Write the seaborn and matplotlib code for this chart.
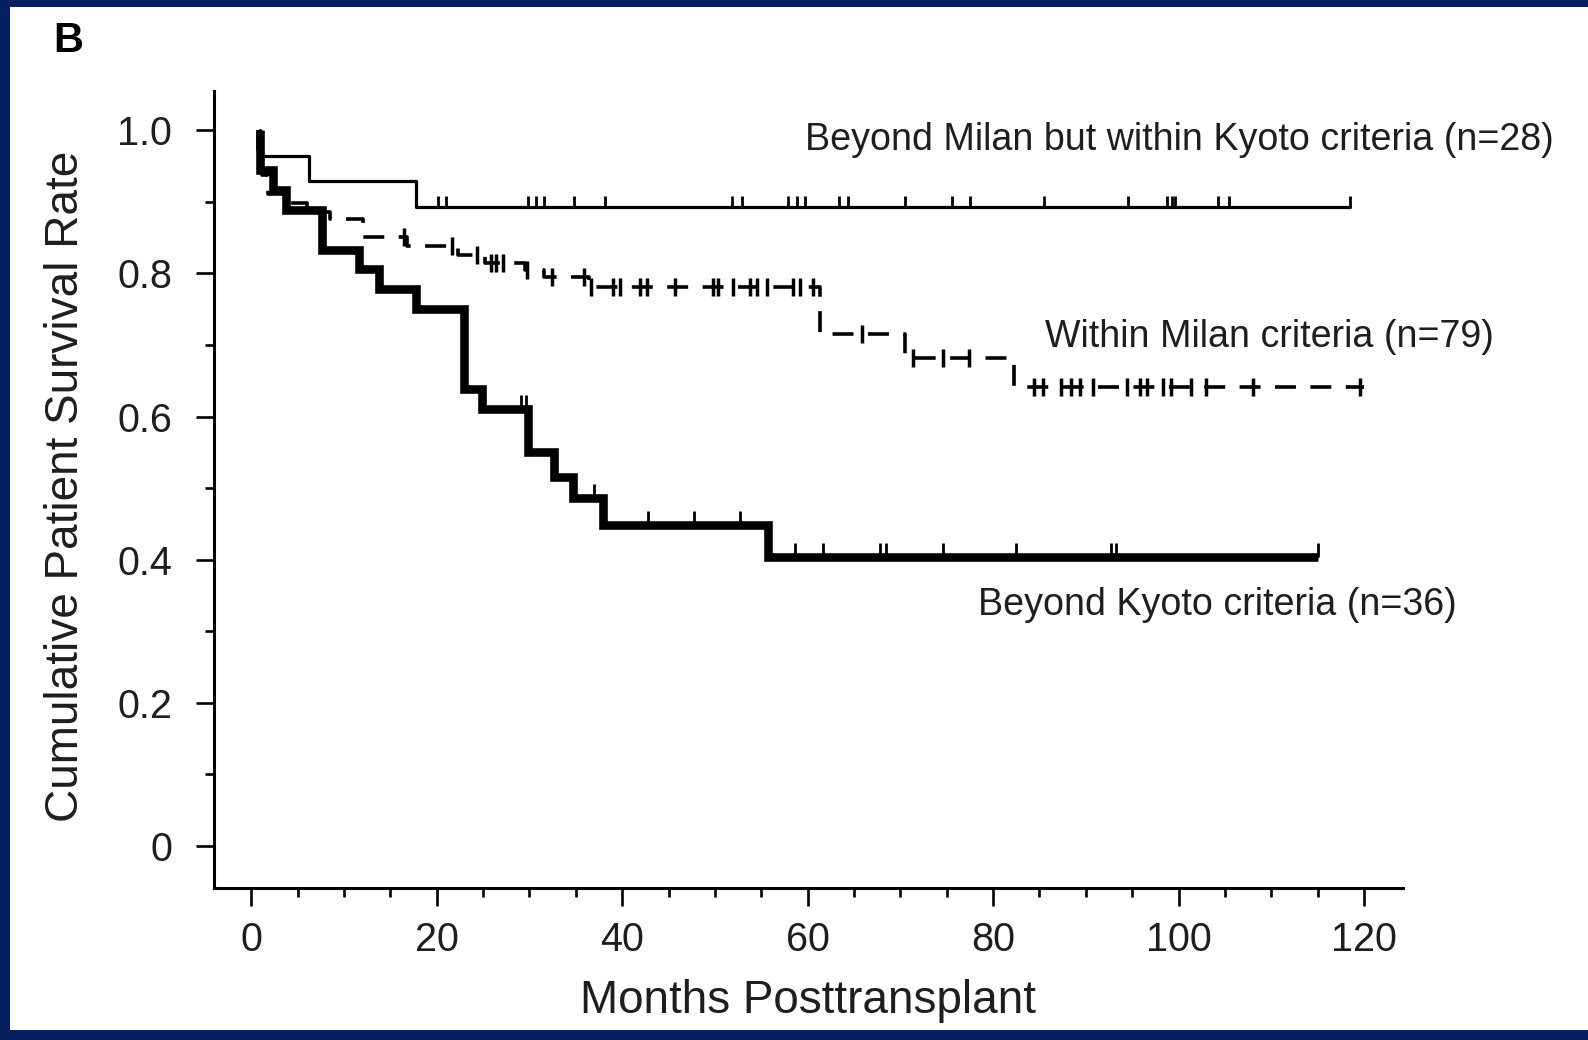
import numpy as np
import pandas as pd
import matplotlib
matplotlib.use("Agg")
import matplotlib.pyplot as plt
from matplotlib.path import Path
from matplotlib.patches import Rectangle
from matplotlib.ticker import MultipleLocator
import seaborn as sns

# ---------------- data ----------------
x_ticks = [0, 20, 40, 60, 80, 100, 120]
y_ticks = [0, 0.2, 0.4, 0.6, 0.8, 1.0]
y_tick_labels = ["0", "0.2", "0.4", "0.6", "0.8", "1.0"]

# Beyond Milan but within Kyoto criteria (n=28) - thin solid
kyoto_in_times = [1.0, 1.0, 6.2, 17.8]
kyoto_in_surv = [1.0, 0.964, 0.929, 0.893]
kyoto_in_end = 118.5
kyoto_in_censor = [20.1, 21.0, 29.9, 30.7, 31.6, 34.8, 38.1, 51.8, 52.9, 57.9,
                   58.9, 59.7, 63.4, 64.4, 70.5, 75.6, 77.5, 85.5, 94.5, 98.8,
                   99.3, 99.6, 104.3, 105.4, 118.5]

# Within Milan criteria (n=79) - dashed
milan_times = [0.7, 0.7, 1.2, 1.8, 3.5, 6.0, 8.5, 12.1, 16.8, 22.3, 25.2, 29.5,
               31.6, 36.4, 61.3, 70.5, 82.3]
milan_surv = [1.0, 0.962, 0.937, 0.911, 0.899, 0.886, 0.876, 0.851, 0.838, 0.826,
              0.815, 0.805, 0.795, 0.781, 0.715, 0.682, 0.641]
milan_end = 120.0
milan_censor = [16.5, 21.7, 24.4, 25.9, 26.4, 27.1, 29.7, 32.4, 35.9, 36.6,
                39.0, 39.8, 41.9, 42.7, 45.7, 49.8, 50.3, 51.9, 53.8, 54.5,
                55.6, 58.4, 59.2, 60.6, 65.9, 71.4, 74.6, 77.4, 84.4, 85.4,
                87.3, 88.4, 89.4, 90.8, 94.4, 95.8, 96.6, 98.3, 99.2, 101.3,
                103.0, 108.0, 119.6]

# Beyond Kyoto criteria (n=36) - thick solid
beyond_times = [0.9, 0.9, 2.3, 3.8, 7.6, 11.6, 13.8, 17.8, 22.9, 24.9, 29.8,
                32.6, 34.7, 37.9, 55.7]
beyond_surv = [1.0, 0.944, 0.917, 0.889, 0.833, 0.806, 0.778, 0.750, 0.639,
               0.611, 0.550, 0.516, 0.486, 0.449, 0.404]
beyond_end = 115.0
beyond_censor = [29.1, 29.6, 37.0, 42.8, 47.7, 52.7, 58.6, 61.7, 67.8, 68.4,
                 74.6, 82.5, 92.7, 93.3, 115.0]

labels = ["Beyond Milan but within Kyoto criteria (n=28)",
          "Within Milan criteria (n=79)",
          "Beyond Kyoto criteria (n=36)"]


def step_frame(times, surv, end):
    return pd.DataFrame({"month": list(times) + [end],
                         "surv": list(surv) + [surv[-1]]})


def censor_frame(times, surv, cens):
    idx = np.searchsorted(np.asarray(times), np.asarray(cens), side="right") - 1
    return pd.DataFrame({"month": cens, "surv": np.asarray(surv)[idx]})


# ---------------- style ----------------
sns.set_style("ticks")
plt.rcParams["font.family"] = ["Liberation Sans", "DejaVu Sans"]
NAVY = "#06205f"
TXT = "#1e1e1e"

fig = plt.figure(figsize=(15.88, 10.40), dpi=100, facecolor=NAVY)
fig.patches.append(Rectangle((10 / 1588, 10 / 1040), 1 - 10 / 1588, 1 - 17 / 1040,
                             transform=fig.transFigure, facecolor="white",
                             edgecolor="none", zorder=-10))

ax = fig.add_axes([0.1346, 0.1462, 0.7489, 0.7663])
ax.set_zorder(5)
ax.set_facecolor("white")
ax.patch.set_alpha(0.0)

up_tick = Path([(0, 0), (0, 1)], [Path.MOVETO, Path.LINETO])

# thin solid
sns.lineplot(data=step_frame(kyoto_in_times, kyoto_in_surv, kyoto_in_end),
             x="month", y="surv", drawstyle="steps-post", estimator=None,
             sort=False, color="black", lw=2.3, ax=ax)
sns.scatterplot(data=censor_frame(kyoto_in_times, kyoto_in_surv, kyoto_in_censor),
                x="month", y="surv", marker=up_tick, s=270, linewidth=2.0,
                edgecolor="black", color="black", ax=ax)

# dashed
sns.lineplot(data=step_frame(milan_times, milan_surv, milan_end),
             x="month", y="surv", drawstyle="steps-post", estimator=None,
             sort=False, color="black", lw=2.6, linestyle=(0, (5.8, 4.0)), ax=ax)
sns.scatterplot(data=censor_frame(milan_times, milan_surv, milan_censor),
                x="month", y="surv", marker="|", s=150, linewidth=2.5,
                edgecolor="black", color="black", ax=ax)

# thick solid
sns.lineplot(data=step_frame(beyond_times, beyond_surv, beyond_end),
             x="month", y="surv", drawstyle="steps-post", estimator=None,
             sort=False, color="black", lw=6.2, ax=ax,
             solid_joinstyle="miter", solid_capstyle="butt")
sns.scatterplot(data=censor_frame(beyond_times, beyond_surv, beyond_censor),
                x="month", y="surv", marker=up_tick, s=420, linewidth=2.0,
                edgecolor="black", color="black", ax=ax)

# annotations
ax.text(59.7, 0.987, labels[0], ha="left", va="center", fontsize=27.1, color=TXT)
ax.text(85.6, 0.711, labels[1], ha="left", va="center", fontsize=27.1, color=TXT)
ax.text(78.4, 0.337, labels[2], ha="left", va="center", fontsize=27.1, color=TXT)

# axes
ax.set_xlim(-4.04, 124.2)
ax.set_ylim(-0.059, 1.055)
ax.set_xticks(x_ticks)
ax.set_xticklabels([str(v) for v in x_ticks])
ax.set_yticks(y_ticks)
ax.set_yticklabels(y_tick_labels)
ax.xaxis.set_minor_locator(MultipleLocator(5))
ax.yaxis.set_minor_locator(MultipleLocator(0.1))
for side in ["top", "right"]:
    ax.spines[side].set_visible(False)
for side in ["left", "bottom"]:
    ax.spines[side].set_linewidth(2.2)
    ax.spines[side].set_color("black")
ax.tick_params(axis="both", which="major", length=13, width=1.9, color="black",
               labelsize=28.5, labelcolor=TXT, direction="out")
ax.tick_params(axis="both", which="minor", length=6.5, width=1.9, color="black",
               direction="out")
ax.tick_params(axis="y", which="major", pad=17)
ax.tick_params(axis="x", which="major", pad=11)

ax.set_xlabel("Months Posttransplant", fontsize=33, color=TXT)
ax.set_ylabel("Cumulative Patient Survival Rate", fontsize=33, color=TXT)
ax.xaxis.set_label_coords(0.5, -0.114)
ax.yaxis.set_label_coords(-0.106, 0.504)
ax.grid(False)

fig.text(53 / 1588, 1 - 40.5 / 1040, "B", ha="left", va="center",
         fontsize=30, fontweight="bold", color="black", zorder=6)

fig.savefig("out.png", dpi=100, facecolor=NAVY)
